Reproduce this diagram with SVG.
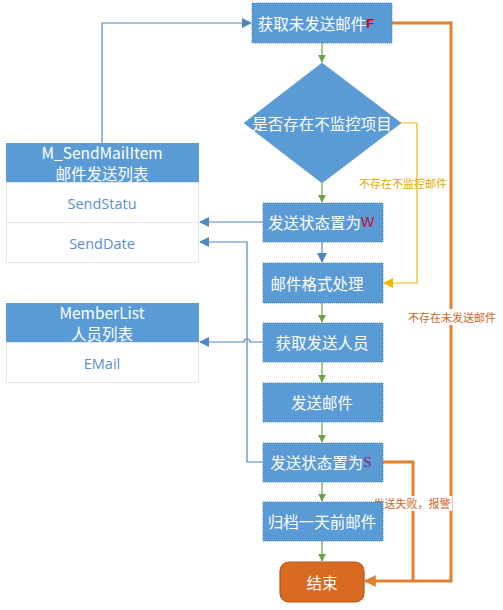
<svg xmlns="http://www.w3.org/2000/svg" width="503" height="610" viewBox="0 0 503 610">
<style>
.box{fill:#5B9BD5;stroke:#4A88C0;stroke-width:1;stroke-dasharray:1 1}
.bt{font-family:"Noto Sans CJK SC","Liberation Sans",sans-serif;font-size:15.5px;fill:#fff;text-anchor:middle;dominant-baseline:central}
.hdr{fill:#5B9BD5}
.row{fill:#fff;stroke:#E4E8EE;stroke-width:1}
.rt{font-family:"Open Sans","Noto Sans CJK SC",sans-serif;font-size:14.5px;fill:#5B8FC8;text-anchor:middle;dominant-baseline:central}
.g{stroke:#6AA342;stroke-width:1.2;fill:none}
.b{stroke:#4F86C0;stroke-width:1.2;fill:none}
.y{stroke:#F2B800;stroke-width:1.2;fill:none}
.o{stroke:#E3802E;stroke-width:3;fill:none}
.lbl{font-family:"Noto Sans CJK SC",sans-serif;font-size:11px;dominant-baseline:central}
</style>
<defs>
<marker id="ag" viewBox="0 0 10 10" refX="9" refY="5" markerWidth="8" markerHeight="8" markerUnits="userSpaceOnUse" orient="auto"><path d="M0,0L10,5L0,10z" fill="#6AA342"/></marker>
<marker id="ab" viewBox="0 0 10 10" refX="9" refY="5" markerWidth="10" markerHeight="10" markerUnits="userSpaceOnUse" orient="auto"><path d="M0,0L10,5L0,10z" fill="#4F86C0"/></marker>
<marker id="ay" viewBox="0 0 10 10" refX="9" refY="5" markerWidth="10" markerHeight="10" markerUnits="userSpaceOnUse" orient="auto"><path d="M0,0L10,5L0,10z" fill="#F2B800"/></marker>
<marker id="ao" viewBox="0 0 10 10" refX="9" refY="5" markerWidth="4" markerHeight="4" orient="auto"><path d="M0,0L10,5L0,10z" fill="#E3802E"/></marker>
</defs>

<g id="connectors">
<path class="g" d="M322,43V62" marker-end="url(#ag)"/>
<path class="g" d="M322,183V202" marker-end="url(#ag)"/>
<path class="b" d="M322,242V262" marker-end="url(#ab)"/>
<path class="g" d="M322,303V322" marker-end="url(#ag)"/>
<path class="g" d="M322,362V382" marker-end="url(#ag)"/>
<path class="g" d="M322,422V442" marker-end="url(#ag)"/>
<path class="g" d="M322,482V501" marker-end="url(#ag)"/>
<path class="g" d="M322,541V561" marker-end="url(#ag)"/>
<path class="b" d="M102,143V23H251" marker-end="url(#ab)"/>
<path class="b" d="M263,222H200" marker-end="url(#ab)"/>
<path class="b" d="M263,462H247V242H200" marker-end="url(#ab)"/>
<path class="b" d="M263,342H250A3,3 0 0 0 244,342H200" marker-end="url(#ab)"/>
<path class="y" d="M401,123H417V283H384" marker-end="url(#ay)"/>
<path class="o" d="M392,23H451V581H365" marker-end="url(#ao)"/>
<path class="o" d="M383,462H413V581"/>
<text class="lbl" x="403" y="183" fill="#E6A700" text-anchor="middle">不存在不监控邮件</text>
<rect x="406" y="309" width="92" height="16" fill="#fff"/>
<text class="lbl" x="452" y="317" fill="#D0651E" text-anchor="middle">不存在未发送邮件</text>
<rect x="372" y="496" width="80" height="15" fill="#fff"/>
<text class="lbl" x="412" y="503" fill="#D0651E" text-anchor="middle">发送失败，报警</text>
</g>

<g id="n1"><rect class="box" x="252" y="3" width="140" height="40"/><text class="bt" x="316" y="23">获取未发送邮件<tspan fill="#E00000" font-family="Liberation Sans" font-weight="bold" font-size="13">F</tspan></text></g>
<g id="n2"><path class="box" d="M322,63L401,123L322,183L244,123Z"/><text class="bt" x="322" y="123" font-size="14">是否存在不监控项目</text></g>
<g id="n3"><rect class="box" x="263" y="203" width="120" height="39"/><text class="bt" x="321" y="222">发送状态置为<tspan fill="#C0103A" font-family="Liberation Sans" font-size="14">W</tspan></text></g>
<g id="n4"><rect class="box" x="263" y="263" width="120" height="40"/><text class="bt" x="317" y="283">邮件格式处理</text></g>
<g id="n5"><rect class="box" x="263" y="323" width="120" height="39"/><text class="bt" x="322" y="342">获取发送人员</text></g>
<g id="n6"><rect class="box" x="263" y="383" width="120" height="39"/><text class="bt" x="322" y="402">发送邮件</text></g>
<g id="n7"><rect class="box" x="263" y="443" width="120" height="39"/><text class="bt" x="321" y="462">发送状态置为<tspan fill="#8A2080" font-family="Liberation Serif" font-size="15">S</tspan></text></g>
<g id="n8"><rect class="box" x="263" y="502" width="120" height="39"/><text class="bt" x="322" y="521">归档一天前邮件</text></g>
<g id="n9"><rect x="280" y="562" width="84" height="40" rx="9" fill="#D86A22" stroke="#B8561A" stroke-width="1.2"/><text class="bt" x="322" y="582" font-size="18">结束</text></g>

<g id="t1">
<rect class="hdr" x="6" y="143" width="193" height="39"/>
<text class="bt" x="102" y="152" font-size="14" font-family="Open Sans,Noto Sans CJK SC,sans-serif">M_SendMailItem</text>
<text class="bt" x="102" y="172.5" font-size="15.5">邮件发送列表</text>
<rect class="row" x="6.5" y="182.5" width="192" height="40"/>
<text class="rt" x="102" y="203">SendStatu</text>
<rect class="row" x="6.5" y="222.5" width="192" height="40"/>
<text class="rt" x="102" y="243">SendDate</text>
</g>
<g id="t2">
<rect class="hdr" x="6" y="303" width="193" height="39"/>
<text class="bt" x="102" y="312" font-size="14" font-family="Open Sans,Noto Sans CJK SC,sans-serif">MemberList</text>
<text class="bt" x="102" y="332.5" font-size="15.5">人员列表</text>
<rect class="row" x="6.5" y="342.5" width="192" height="40"/>
<text class="rt" x="102" y="363">EMail</text>
</g>
</svg>
